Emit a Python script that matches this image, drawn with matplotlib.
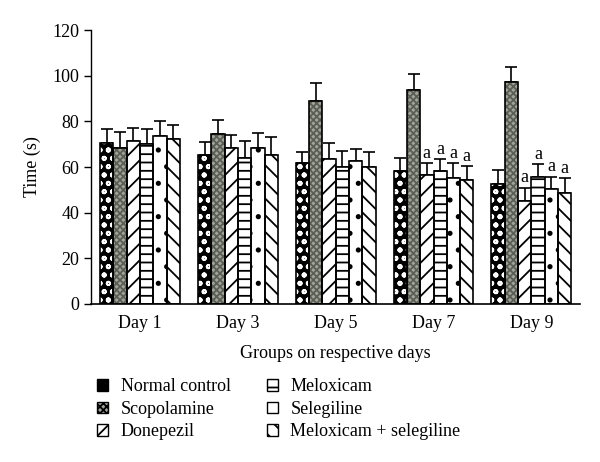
import matplotlib.pyplot as plt
import numpy as np

plt.rcParams['font.family'] = ['Liberation Serif', 'DejaVu Serif']
plt.rcParams['hatch.linewidth'] = 1.3

days = ["Day 1", "Day 3", "Day 5", "Day 7", "Day 9"]
groups = ["Normal control", "Scopolamine", "Donepezil",
          "Meloxicam", "Selegiline", "Meloxicam + selegiline"]

normal = [70.5, 65.4, 61.6, 58.3, 52.4]
scop = [68.2, 74.3, 89.1, 93.7, 97.4]
done = [71.4, 68.2, 63.7, 56.5, 45.3]
melox = [70.0, 64.1, 60.1, 58.3, 55.5]
seleg = [73.6, 68.2, 62.8, 55.4, 50.2]
melsel = [72.3, 65.4, 60.1, 54.3, 48.5]

normal_err = [6.0, 5.4, 5.0, 5.5, 6.3]
scop_err = [7.2, 6.3, 7.9, 7.0, 6.3]
done_err = [5.6, 5.8, 7.0, 5.1, 5.7]
melox_err = [6.5, 7.4, 6.9, 5.1, 5.7]
seleg_err = [6.4, 6.8, 5.1, 6.2, 5.6]
melsel_err = [6.2, 7.6, 6.6, 6.3, 6.5]

# significance marks ("a") per group and day
sig = [[""] * 5, [""] * 5,
       ["", "", "", "a", "a"], ["", "", "", "a", "a"],
       ["", "", "", "a", "a"], ["", "", "", "a", "a"]]

vals = [normal, scop, done, melox, seleg, melsel]
errs = [normal_err, scop_err, done_err, melox_err, seleg_err, melsel_err]

faces = ["black", "#a0a49a", "white", "white", "white", "white"]
hcols = ["white", "#5a5e55", "black", "black", "black", "black"]
hatches = ["oo", "xxxxx", "//", "--", ".", "\\\\"]

fig = plt.figure(figsize=(6, 4.62), dpi=100)
ax = fig.add_axes([0.152, 0.342, 0.815, 0.593])

width = 0.136
x = np.arange(len(days))
for i in range(6):
    pos = x + (i - 2.5) * width
    ax.bar(pos, vals[i], width, color=faces[i], edgecolor=hcols[i],
           hatch=hatches[i], linewidth=0, zorder=2)
    ax.bar(pos, vals[i], width, fill=False, edgecolor="black",
           linewidth=1.2, zorder=3, label=groups[i])
    ax.errorbar(pos, vals[i], yerr=[np.zeros(5), errs[i]], fmt="none",
                ecolor="black", elinewidth=1.2, capsize=4, capthick=1.2, zorder=1)
    for j in range(5):
        if sig[i][j]:
            ax.text(pos[j], vals[i][j] + errs[i][j] + 0.5, sig[i][j],
                    ha="center", va="bottom", fontsize=13)

ax.set_xlim(-0.5, 4.5)
ax.set_ylim(0, 120)
ax.set_yticks(range(0, 121, 20))
ax.set_xticks(x)
ax.set_xticklabels(days, fontsize=13)
ax.tick_params(axis="y", labelsize=13, direction="out", length=5, width=1)
ax.tick_params(axis="x", length=0, pad=8)
ax.spines["top"].set_visible(False)
ax.spines["right"].set_visible(False)
ax.spines["left"].set_linewidth(1)
ax.spines["bottom"].set_linewidth(1.2)
ax.set_ylabel("Time (s)", fontsize=13, labelpad=8)
ax.set_xlabel("Groups on respective days", fontsize=13, labelpad=9)

# legend swatches
handles = []
for i in range(6):
    h = plt.Rectangle((0, 0), 1, 1, facecolor=faces[i], edgecolor="black",
                      hatch=hatches[i], linewidth=1)
    handles.append(h)
fig.legend(handles, groups, loc="upper left", bbox_to_anchor=(0.135, 0.216),
           ncol=2, frameon=False, fontsize=13, handlelength=0.6,
           handleheight=0.6, handletextpad=0.7, labelspacing=0.3,
           columnspacing=2.0)

fig.savefig("out.png", dpi=100)
